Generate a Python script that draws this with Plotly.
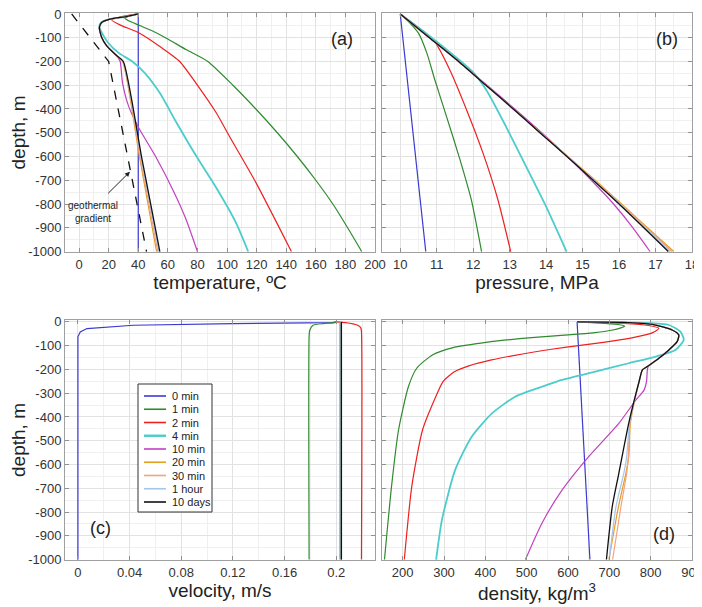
import plotly.graph_objects as go

SERIES = ["0 min", "1 min", "2 min", "4 min", "10 min", "20 min", "30 min", "1 hour", "10 days"]
COLORS = ["#3a3ad0", "#2f8a2f", "#ee2020", "#4ccccc", "#c040c0", "#e0a020", "#f5a27c", "#a8c4f0", "#111111"]
WIDTHS = [1.2, 1.2, 1.2, 1.8, 1.2, 1.2, 1.2, 1.2, 1.3]

# ---------- (a) temperature, degC vs depth, m ----------
temp_depth = {
    "0 min": [0, -1000],
    "1 min": [0, -8, -18, -30, -46, -70, -102, -151, -200, -300, -400, -500, -600, -700, -800, -900, -1000],
    "2 min": [0, -10, -25, -46, -81, -137, -200, -291, -417, -517, -713, -1000],
    "4 min": [0, -11, -22, -33, -50, -78, -120, -165, -200, -249, -333, -459, -599, -724, -878, -1000],
    "10 min": [0, -11, -22, -36, -57, -99, -134, -176, -200, -287, -385, -476, -594, -748, -860, -1000],
    "20 min": [0, -11, -22, -36, -57, -99, -134, -176, -200, -600, -1000],
    "30 min": [0, -11, -22, -36, -57, -99, -134, -176, -200, -600, -1000],
    "1 hour": [0, -11, -22, -36, -57, -99, -134, -176, -200, -600, -1000],
    "10 days": [0, -11, -22, -36, -57, -99, -134, -176, -200, -600, -1000],
}
temp_vals = {
    "0 min": [40, 40],
    "1 min": [40, 34, 31, 34, 40, 49, 59, 72.6, 87, 104, 119.5, 134, 147.5, 160, 171.5, 181.5, 191],
    "2 min": [40, 30, 22, 27.6, 41, 54.6, 68, 79, 92.8, 101.8, 119.8, 143.5],
    "4 min": [40, 32, 20.9, 15.5, 13.7, 15.3, 19.5, 27, 36, 44.5, 54.6, 66, 79.3, 92, 106, 114.3],
    "10 min": [40, 32, 20.9, 15.3, 13.7, 15.3, 18.7, 25.5, 27.8, 29.3, 33.3, 40, 51.2, 64, 72, 80],
    "20 min": [40, 32, 20.9, 15.3, 13.7, 15.3, 18.7, 25.5, 29.5, 40.8, 52.4],
    "30 min": [40, 32, 20.9, 15.3, 13.7, 15.3, 18.7, 25.5, 29.6, 41.2, 53.2],
    "1 hour": [40, 32, 20.9, 15.3, 13.7, 15.3, 18.7, 25.5, 29.8, 41.8, 54.0],
    "10 days": [40, 32, 20.9, 15.3, 13.7, 15.3, 18.7, 25.5, 29.9, 42.2, 54.6],
}
geo_depth = [0, -200, -1000]
geo_temp = [-5, 20, 45.6]

# ---------- (b) pressure, MPa ----------
pres_depth = {
    "0 min": [0, -1000],
    "1 min": [0, -25, -81, -165, -278, -432, -614, -783, -1000],
    "2 min": [0, -74, -123, -236, -404, -586, -783, -1000],
    "4 min": [0, -74, -160, -243, -320, -474, -642, -811, -1000],
    "10 min": [0, -100, -200, -300, -400, -500, -600, -700, -800, -900, -1000],
    "20 min": [0, -100, -200, -300, -400, -500, -600, -700, -800, -900, -1000],
    "30 min": [0, -100, -200, -300, -400, -500, -600, -700, -800, -900, -1000],
    "1 hour": [0, -100, -200, -300, -400, -500, -600, -700, -800, -900, -1000],
    "10 days": [0, -100, -200, -300, -400, -500, -600, -700, -800, -900, -1000],
}
pres_vals = {
    "0 min": [10, 10.7],
    "1 min": [10, 10.18, 10.5, 10.73, 10.95, 11.27, 11.64, 11.95, 12.23],
    "2 min": [10, 10.64, 10.97, 11.36, 11.82, 12.27, 12.68, 13.03],
    "4 min": [10, 10.64, 11.35, 11.98, 12.36, 12.9, 13.45, 14.0, 14.56],
    "10 min": [10, 10.8, 11.6, 12.38, 13.14, 13.88, 14.58, 15.24, 15.85, 16.38, 16.85],
    "20 min": [10, 10.8, 11.6, 12.35, 13.1, 13.85, 14.6, 15.35, 16.07, 16.78, 17.5],
    "30 min": [10, 10.8, 11.6, 12.35, 13.1, 13.84, 14.59, 15.33, 16.05, 16.75, 17.45],
    "1 hour": [10, 10.8, 11.6, 12.35, 13.1, 13.83, 14.58, 15.31, 16.02, 16.71, 17.4],
    "10 days": [10, 10.8, 11.6, 12.35, 13.1, 13.83, 14.57, 15.29, 16.0, 16.68, 17.35],
}

# ---------- (c) velocity, m/s ----------
vel_depth = {
    "0 min": [0, -3, -7, -14, -28, -42, -63, -1000],
    "1 min": [0, -3, -7, -14, -35, -60, -1000],
    "2 min": [0, -3, -8, -15, -25, -40, -1000],
    "4 min": [0, -1000],
    "10 min": [0, -1000],
    "20 min": [0, -1000],
    "30 min": [0, -1000],
    "1 hour": [0, -1000],
    "10 days": [0, -1000],
}
vel_vals = {
    "0 min": [0.2, 0.197, 0.12, 0.043, 0.007, 0.0018, 0.0, 0.0],
    "1 min": [0.2, 0.199, 0.19, 0.182, 0.1795, 0.179, 0.179],
    "2 min": [0.2, 0.207, 0.213, 0.217, 0.219, 0.2195, 0.2195],
    "4 min": [0.203, 0.203],
    "10 min": [0.204, 0.204],
    "20 min": [0.204, 0.204],
    "30 min": [0.204, 0.204],
    "1 hour": [0.204, 0.204],
    "10 days": [0.204, 0.204],
}

# ---------- (d) density, kg/m3 ----------
dens_depth = {
    "0 min": [0, -1000],
    "1 min": [0, -6, -12, -18, -25, -35, -45, -55, -65, -77, -90, -108, -139, -195, -272, -455, -693, -1000],
    "2 min": [0, -6, -15, -27, -45, -65, -85, -100, -115, -135, -160, -185, -210, -250, -315, -455, -693, -1000],
    "4 min": [0, -4, -13, -41, -76, -118, -146, -174, -209, -244, -273, -315, -385, -483, -623, -833, -1000],
    "10 min": [0, -2, -10, -34, -55, -83, -118, -153, -188, -202, -250, -287, -329, -427, -567, -707, -847, -1000],
    "20 min": [0, -2, -10, -34, -55, -83, -118, -153, -188, -202, -251, -426, -567, -637, -778, -1000],
    "30 min": [0, -2, -10, -34, -55, -83, -118, -153, -188, -202, -251, -426, -567, -637, -778, -1000],
    "1 hour": [0, -2, -10, -34, -55, -83, -118, -153, -188, -202, -251, -426, -567, -637, -778, -1000],
    "10 days": [0, -2, -10, -34, -55, -83, -118, -153, -188, -202, -251, -426, -637, -778, -1000],
}
dens_vals = {
    "0 min": [622, 653],
    "1 min": [622, 690, 725, 737, 728, 705, 665, 600, 520, 445, 385, 322, 272, 234, 214, 190, 173, 156],
    "2 min": [622, 735, 795, 820, 805, 760, 690, 625, 560, 490, 415, 360, 325, 298, 280, 248, 222, 204],
    "4 min": [622, 780, 844, 872, 880, 860, 812, 747, 666, 585, 537, 472, 416, 367, 327, 295, 281],
    "10 min": [622, 731, 804, 852, 868, 864, 844, 820, 794, 792, 790, 784, 764, 723, 650, 586, 537, 497],
    "20 min": [622, 731, 804, 852, 868, 864, 844, 820, 792, 780, 772, 751, 747, 740, 722, 699],
    "30 min": [622, 731, 804, 852, 868, 864, 844, 820, 792, 780, 772, 750, 746, 742, 728, 708],
    "1 hour": [622, 731, 804, 852, 868, 864, 844, 820, 792, 780, 772, 749, 742, 735, 716, 700],
    "10 days": [622, 731, 804, 852, 868, 864, 844, 820, 792, 780, 772, 747, 723, 707, 693],
}

depth_ticks = list(range(0, -1001, -100))
temp_ticks = list(range(0, 201, 20))
pres_ticks = list(range(10, 19))
vel_ticks = [0, 0.04, 0.08, 0.12, 0.16, 0.2]
dens_ticks = list(range(200, 901, 100))

FONT = "Liberation Sans, Arial, sans-serif"

fig = go.Figure()

panels = [
    (temp_depth, temp_vals, "x", "y"),
    (pres_depth, pres_vals, "x2", "y2"),
    (vel_depth, vel_vals, "x3", "y3"),
    (dens_depth, dens_vals, "x4", "y4"),
]
for pi, (dd, vv, xa, ya) in enumerate(panels):
    if pi == 0:
        fig.add_trace(go.Scatter(x=geo_temp, y=geo_depth, mode="lines",
                                 line=dict(color="#111111", width=1.3, dash="dash"),
                                 showlegend=False, xaxis=xa, yaxis=ya, hoverinfo="skip"))
    for i, name in enumerate(SERIES):
        straight = len(dd[name]) <= 3 or name == "0 min"
        fig.add_trace(go.Scatter(
            x=vv[name], y=dd[name], mode="lines", name=name,
            line=dict(color=COLORS[i], width=WIDTHS[i],
                      shape="linear" if straight else "spline",
                      smoothing=0.6),
            showlegend=False, xaxis=xa, yaxis=ya))

# The page body has an 8px default margin, so the figure is shifted by 8px.
OFF = 8
W, H = 702 - OFF, 607 - OFF
ml, mt = 65 - OFF, 13 - OFF
mr, mb = 702 - 692, 607 - 560
pw, ph = 692 - 65, 560 - 13


def px_x(x):  # screen px -> paper
    return (x - 65) / pw


def px_y(y):
    return 1 - (y - 13) / ph


xa_dom = [0, px_x(375)]
xb_dom = [px_x(382), 1]
ytop_dom = [px_y(252), 1]
ybot_dom = [0, px_y(320)]

common = dict(showline=True, linecolor="#a0a0a0", linewidth=1, mirror="ticks",
              ticks="inside", ticklen=4, tickcolor="#909090", automargin=False,
              ticklabeloverflow="allow",
              showgrid=True, gridcolor="#e2e2e2", gridwidth=1, zeroline=False,
              tickfont=dict(family=FONT, size=13, color="#333333"),
              title_font=dict(family=FONT, size=19, color="#222222"))
minor_grid = dict(showgrid=True, gridcolor="#f0f0f0", tickmode="linear", tick0=0)


def ax(**kw):
    d = dict(common)
    d.update(kw)
    return d


def fmt(v):
    return "%g" % v


fig.update_layout(
    width=W, height=H, margin=dict(l=ml, r=mr, t=mt, b=mb),
    paper_bgcolor="white", plot_bgcolor="white",
    font=dict(family=FONT, color="#222222"),
    showlegend=False,
    xaxis=ax(domain=xa_dom, anchor="y", range=[-9.5, 200], tickmode="array",
             tickvals=temp_ticks, ticktext=[fmt(v) for v in temp_ticks],
             minor=dict(minor_grid, dtick=10),
             title=dict(text="temperature, ºC", standoff=3)),
    yaxis=ax(domain=ytop_dom, anchor="x", range=[-1002, 4], tickmode="array",
             tickvals=depth_ticks, ticktext=[fmt(v) for v in depth_ticks],
             minor=dict(minor_grid, dtick=50),
             title=dict(text="depth, m", standoff=6)),
    xaxis2=ax(domain=xb_dom, anchor="y2", range=[9.5, 18], tickmode="array",
              tickvals=pres_ticks, ticktext=[fmt(v) for v in pres_ticks],
              minor=dict(minor_grid, dtick=0.5),
              title=dict(text="pressure, MPa", standoff=3)),
    yaxis2=ax(domain=ytop_dom, anchor="x2", range=[-1002, 4], tickmode="array",
              tickvals=depth_ticks, showticklabels=False,
              minor=dict(minor_grid, dtick=50)),
    xaxis3=ax(domain=xa_dom, anchor="y3", range=[-0.01, 0.23], tickmode="array",
              tickvals=vel_ticks, ticktext=[fmt(v) for v in vel_ticks],
              minor=dict(minor_grid, dtick=0.02),
              title=dict(text="velocity, m/s", standoff=3)),
    yaxis3=ax(domain=ybot_dom, anchor="x3", range=[-1002, 8], tickmode="array",
              tickvals=depth_ticks, ticktext=[fmt(v) for v in depth_ticks],
              minor=dict(minor_grid, dtick=50),
              title=dict(text="depth, m", standoff=6)),
    xaxis4=ax(domain=xb_dom, anchor="y4", range=[150, 900], tickmode="array",
              tickvals=dens_ticks, ticktext=[fmt(v) for v in dens_ticks],
              minor=dict(minor_grid, dtick=50),
              title=dict(text="density, kg/m<sup>3</sup>", standoff=3)),
    yaxis4=ax(domain=ybot_dom, anchor="x4", range=[-1002, 8], tickmode="array",
              tickvals=depth_ticks, showticklabels=False,
              minor=dict(minor_grid, dtick=50)),
)

# ---- custom compact legend inside panel (c) ----
LEG_X0, LEG_X1, LEG_Y0, LEG_Y1 = 138, 212, 384, 512
fig.add_shape(type="rect", xref="paper", yref="paper",
              x0=px_x(LEG_X0), x1=px_x(LEG_X1), y0=px_y(LEG_Y1), y1=px_y(LEG_Y0),
              line=dict(color="#333333", width=1), fillcolor="white", layer="above")
row0, rowstep = 396, 13.25
for i, name in enumerate(SERIES):
    yy = px_y(row0 + i * rowstep)
    fig.add_shape(type="line", xref="paper", yref="paper",
                  x0=px_x(144), x1=px_x(166), y0=yy, y1=yy,
                  line=dict(color=COLORS[i], width=2.4 if name == "4 min" else 1.6), layer="above")
    fig.add_annotation(text=name, xref="paper", yref="paper", x=px_x(170), y=yy,
                       xanchor="left", yanchor="middle", showarrow=False,
                       font=dict(family=FONT, size=11, color="#222222"))

lab_font = dict(family=FONT, size=18, color="#222222")
fig.add_annotation(text="(a)", xref="x domain", yref="y domain", x=0.935, y=0.94, showarrow=False, font=lab_font)
fig.add_annotation(text="(b)", xref="x2 domain", yref="y2 domain", x=0.961, y=0.94, showarrow=False, font=lab_font)
fig.add_annotation(text="(c)", xref="x3 domain", yref="y3 domain", x=0.074, y=0.083, showarrow=False, font=lab_font)
fig.add_annotation(text="(d)", xref="x4 domain", yref="y4 domain", x=0.951, y=0.06, showarrow=False, font=lab_font)

fig.add_annotation(text="geothermal<br>gradient", xref="x", yref="y", x=9.4, y=-833,
                   showarrow=False, font=dict(family=FONT, size=10, color="#222222"))
fig.add_annotation(x=34.4, y=-664, ax=18.7, ay=-761, xref="x", yref="y", axref="x", ayref="y",
                   text="", showarrow=True, arrowhead=2, arrowsize=1, arrowwidth=1, arrowcolor="#222222")

fig.write_html("out.html")
